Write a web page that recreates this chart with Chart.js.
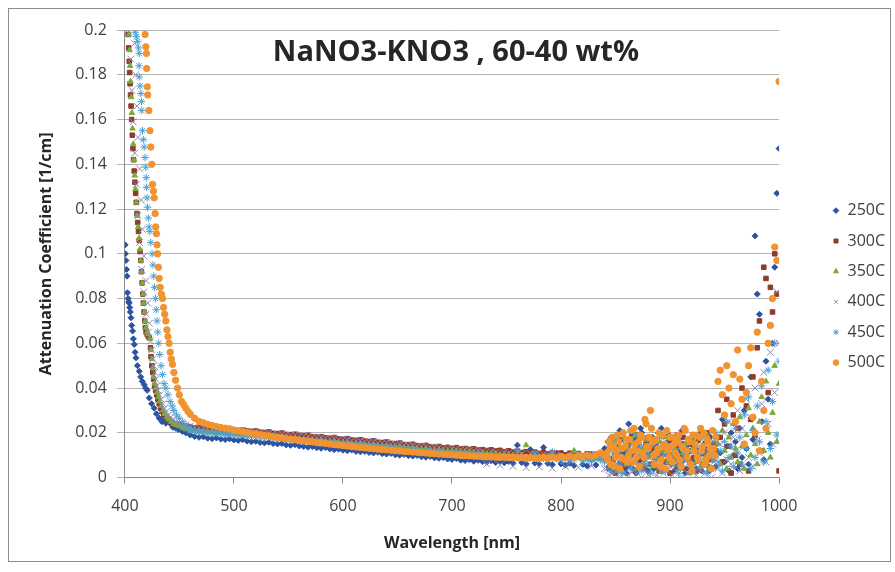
<!DOCTYPE html>
<html>
<head>
<meta charset="utf-8">
<script src="https://cdn.jsdelivr.net/npm/chart.js@4.4.1/dist/chart.umd.min.js"></script>
<style>
html, body { margin: 0; padding: 0; background: #fff; }
#wrap { position: relative; width: 895px; height: 572px; }
#frame { position: absolute; left: 8px; top: 8px; width: 881px; height: 552px; border: 1px solid #8c8c8c; pointer-events: none; }
</style>
</head>
<body>
<div id="wrap">
    <canvas id="chart" width="895" height="572"></canvas>
    <div id="frame"></div>
</div>
<script>
/* ================= DATA ================= */

const chartTitle = "NaNO3-KNO3 , 60-40 wt%";
const seriesNames = ["250C", "300C", "350C", "400C", "450C", "500C"];
const xTickLabels = ["400", "500", "600", "700", "800", "900", "1000"];
const yTickLabels = ["0", "0.02", "0.04", "0.06", "0.08", "0.1", "0.12", "0.14", "0.16", "0.18", "0.2"];

// steep absorption edge, read point by point
const edgeWl250 = [400.3,400.5,401.0,401.5,402.0,402.4,403.0,403.5,404.0,404.5,405.0,405.6,406.3,407.1,407.8,408.6,409.4,410.2,411.5,413.2,414.5,416.0,417.8,419.0,420.5,422.4,424.5,426.9,429.0,431.5,434.0,436.0,437.6,440.0,442.0,444.0,446.8,449.0,452.8,456.0];
const edgeAtt250 = [0.104,0.100,0.097,0.093,0.090,0.0826,0.080,0.0785,0.078,0.076,0.074,0.0714,0.068,0.0655,0.062,0.0595,0.056,0.0535,0.050,0.0475,0.045,0.043,0.0415,0.040,0.039,0.0356,0.033,0.031,0.0285,0.0266,0.025,0.026,0.0243,0.026,0.024,0.0225,0.022,0.0215,0.0206,0.020];

const edgeWl300 = [403.0,403.5,404.0,404.4,404.8,405.2,405.7,406.2,406.8,407.4,408.0,408.6,409.2,409.9,410.5,411.1,411.8,412.5,413.2,414.0,414.6,415.2,415.8,416.4,417.0,417.6,418.2,418.8,419.5,420.5,421.5,422.5,423.5,424.0,424.8,425.6,426.4,427.3,428.2,429.2,430.3,431.5,432.8,434.2,435.8,437.5,439.2,441.0,443.0,445.0,447.0,449.5,452.0,455.0,458.0];
const edgeAtt300 = [0.198,0.192,0.186,0.181,0.176,0.171,0.166,0.160,0.153,0.147,0.142,0.137,0.132,0.127,0.123,0.118,0.114,0.110,0.106,0.101,0.097,0.092,0.087,0.082,0.078,0.074,0.070,0.067,0.065,0.064,0.063,0.0625,0.058,0.054,0.050,0.047,0.044,0.041,0.039,0.037,0.035,0.033,0.031,0.0295,0.028,0.027,0.026,0.025,0.0245,0.024,0.0238,0.0235,0.0232,0.023,0.0228];

const edgeWl350 = [403.8,404.3,404.8,405.3,405.8,406.4,407.0,407.7,408.4,409.1,409.8,410.6,411.4,412.2,413.0,413.8,414.6,415.3,416.0,416.7,417.4,418.1,418.8,419.5,420.5,421.8,423.0,424.0,424.8,425.6,426.5,427.5,428.5,429.6,430.8,432.0,433.4,435.0,436.6,438.4,440.3,442.5,445.0,447.5,450.0,453.0,456.0];
const edgeAtt350 = [0.198,0.191,0.184,0.177,0.170,0.163,0.156,0.149,0.142,0.135,0.129,0.123,0.117,0.112,0.107,0.102,0.097,0.092,0.087,0.082,0.078,0.074,0.070,0.067,0.065,0.064,0.062,0.057,0.053,0.049,0.045,0.042,0.040,0.038,0.036,0.034,0.032,0.030,0.0285,0.027,0.026,0.025,0.024,0.0235,0.023,0.0222,0.0216];

const edgeWl400 = [402.5,409.0,405.5,410.0,406.5,411.0,407.5,412.0,409.0,413.5,410.5,415.0,412.0,416.0,413.5,417.5,415.5,419.5,417.5,421.0,419.5,422.5,421.5,423.5,424.5,425.5,426.5,427.5,428.5,429.5,430.5,432.0,433.5,435.0,436.5,438.0,440.0,442.0,444.5,447.0,450.0,453.0,456.0];
const edgeAtt400 = [0.200,0.194,0.187,0.180,0.173,0.166,0.159,0.152,0.145,0.138,0.131,0.124,0.117,0.111,0.105,0.099,0.093,0.088,0.083,0.078,0.073,0.069,0.065,0.061,0.057,0.053,0.050,0.047,0.044,0.041,0.039,0.037,0.035,0.033,0.031,0.0295,0.028,0.027,0.026,0.025,0.0245,0.024,0.0235];

const edgeWl450 = [409.5,410.5,411.8,412.5,413.2,413.0,413.2,414.0,414.7,415.2,415.6,416.2,417.0,417.7,418.5,419.2,419.6,419.9,420.4,420.8,421.5,422.3,423.0,423.8,425.0,425.8,426.5,427.2,428.0,428.8,429.5,430.2,431.0,432.0,433.2,434.5,436.0,437.6,439.5,441.5,443.5,445.0,447.5,450.0,453.0,456.0,459.0];
const edgeAtt450 = [0.199,0.197,0.1948,0.192,0.1895,0.184,0.179,0.175,0.1716,0.168,0.164,0.155,0.151,0.1477,0.143,0.1387,0.134,0.1297,0.125,0.1208,0.116,0.112,0.110,0.105,0.100,0.095,0.090,0.085,0.080,0.075,0.070,0.065,0.060,0.055,0.050,0.046,0.042,0.040,0.037,0.034,0.032,0.030,0.028,0.0265,0.025,0.023,0.022];

const edgeWl500 = [418.6,419.3,419.8,420.0,420.6,421.0,422.0,423.0,423.8,424.8,425.4,426.2,426.9,427.8,428.4,429.0,429.5,430.0,430.8,431.5,432.5,433.5,434.5,435.5,436.5,437.6,438.6,439.6,440.6,441.6,442.6,443.7,445.0,446.5,448.3,450.0,452.0,454.0,456.0,458.0];
const edgeAtt500 = [0.198,0.1925,0.1895,0.1828,0.1746,0.171,0.164,0.155,0.1477,0.140,0.131,0.128,0.125,0.118,0.112,0.109,0.104,0.100,0.094,0.089,0.085,0.082,0.080,0.076,0.073,0.070,0.066,0.063,0.060,0.056,0.053,0.0506,0.047,0.0435,0.040,0.037,0.034,0.0326,0.031,0.0295];

// flat band 460-840 nm
const bandWl = [460,464,468,472,476,480,484,488,492,496,500,504,508,512,516,520,524,528,532,536,540,544,548,552,556,560,564,568,572,576,580,584,588,592,596,600,604,608,612,616,620,624,628,632,636,640,644,648,652,656,660,664,668,672,676,680,684,688,692,696,700,704,708,712,716,720,724,728,732,736,740,744,748,752,756,760,764,768,772,776,780,784,788,792,796,800,804,808,812,816,820,824,828,832,836,840];

const band250 = [0.0190,0.0184,0.0180,0.0182,0.0176,0.0174,0.0177,0.0172,0.0170,0.0173,
    0.0168,0.0166,0.0169,0.0163,0.0160,0.0162,0.0157,0.0155,0.0158,0.0152,
    0.0150,0.0152,0.0146,0.0144,0.0147,0.0141,0.0139,0.0136,0.0138,0.0133,
    0.0131,0.0134,0.0128,0.0125,0.0127,0.0122,0.0120,0.0123,0.0117,0.0115,
    0.0117,0.0112,0.0110,0.0113,0.0107,0.0105,0.0108,0.0102,0.0100,0.0103,
    0.0098,0.0096,0.0099,0.0093,0.0091,0.0094,0.0088,0.0086,0.0089,0.0083,
    0.0081,0.0085,0.0078,0.0076,0.0080,0.0073,0.0077,0.0071,0.0069,0.0075,
    0.0068,0.0074,0.0066,0.0072,0.0064,0.0145,0.0067,0.0062,0.0125,0.0065,
    0.0060,0.0135,0.0063,0.0058,0.0110,0.0061,0.0056,0.0064,0.0054,0.0095,
    0.0059,0.0052,0.0105,0.0056,0.0090,0.0130];
const band300 = [0.0225,0.0222,0.0224,0.0219,0.0221,0.0217,0.0219,0.0215,0.0217,0.0213,
    0.0214,0.0210,0.0212,0.0208,0.0206,0.0208,0.0203,0.0201,0.0204,0.0198,
    0.0196,0.0199,0.0193,0.0191,0.0194,0.0188,0.0186,0.0189,0.0183,0.0181,
    0.0183,0.0178,0.0176,0.0179,0.0173,0.0171,0.0174,0.0168,0.0166,0.0169,
    0.0163,0.0161,0.0164,0.0158,0.0156,0.0159,0.0153,0.0151,0.0154,0.0148,
    0.0146,0.0149,0.0143,0.0141,0.0144,0.0138,0.0136,0.0139,0.0133,0.0135,
    0.0131,0.0134,0.0128,0.0130,0.0126,0.0129,0.0123,0.0125,0.0121,0.0124,
    0.0119,0.0122,0.0116,0.0120,0.0114,0.0118,0.0112,0.0116,0.0110,0.0114,
    0.0108,0.0113,0.0106,0.0111,0.0104,0.0110,0.0102,0.0109,0.0100,0.0107,
    0.0098,0.0106,0.0096,0.0105,0.0094,0.0102];
const band350 = [0.0210,0.0207,0.0205,0.0206,0.0202,0.0203,0.0199,0.0200,0.0197,0.0196,
    0.0197,0.0193,0.0194,0.0190,0.0189,0.0190,0.0186,0.0184,0.0185,0.0181,
    0.0180,0.0181,0.0177,0.0175,0.0176,0.0172,0.0170,0.0171,0.0167,0.0166,
    0.0166,0.0162,0.0161,0.0162,0.0158,0.0156,0.0157,0.0153,0.0151,0.0152,
    0.0148,0.0147,0.0148,0.0144,0.0142,0.0143,0.0139,0.0137,0.0138,0.0134,
    0.0133,0.0134,0.0130,0.0128,0.0129,0.0125,0.0124,0.0125,0.0121,0.0120,
    0.0119,0.0120,0.0116,0.0115,0.0116,0.0112,0.0111,0.0112,0.0108,0.0107,
    0.0108,0.0104,0.0103,0.0104,0.0100,0.0099,0.0100,0.0145,0.0097,0.0098,
    0.0095,0.0094,0.0096,0.0092,0.0091,0.0093,0.0089,0.0088,0.0120,0.0087,
    0.0086,0.0088,0.0084,0.0083,0.0085,0.0081];
const band400 = [0.0230,0.0226,0.0223,0.0225,0.0220,0.0218,0.0220,0.0215,0.0213,0.0215,
    0.0211,0.0209,0.0211,0.0206,0.0204,0.0206,0.0201,0.0199,0.0201,0.0196,
    0.0194,0.0196,0.0191,0.0189,0.0191,0.0186,0.0184,0.0186,0.0181,0.0179,
    0.0181,0.0176,0.0174,0.0176,0.0171,0.0169,0.0171,0.0166,0.0164,0.0166,
    0.0161,0.0159,0.0161,0.0156,0.0154,0.0156,0.0151,0.0149,0.0151,0.0146,
    0.0144,0.0146,0.0141,0.0139,0.0141,0.0136,0.0134,0.0136,0.0131,0.0129,
    0.0131,0.0126,0.0124,0.0126,0.0121,0.0119,0.0121,0.0116,0.0060,0.0116,
    0.0112,0.0055,0.0113,0.0109,0.0050,0.0110,0.0106,0.0045,0.0107,0.0103,
    0.0048,0.0104,0.0100,0.0042,0.0102,0.0098,0.0050,0.0100,0.0096,0.0046,
    0.0099,0.0095,0.0052,0.0097,0.0093,0.0040];
const band450 = [0.0212,0.0208,0.0204,0.0206,0.0200,0.0198,0.0200,0.0195,0.0193,0.0195,
    0.0190,0.0188,0.0190,0.0185,0.0183,0.0185,0.0180,0.0178,0.0180,0.0175,
    0.0173,0.0175,0.0170,0.0168,0.0170,0.0165,0.0163,0.0165,0.0160,0.0158,
    0.0160,0.0155,0.0153,0.0155,0.0150,0.0148,0.0150,0.0145,0.0143,0.0145,
    0.0140,0.0138,0.0140,0.0135,0.0133,0.0135,0.0130,0.0128,0.0130,0.0125,
    0.0123,0.0125,0.0120,0.0118,0.0120,0.0115,0.0113,0.0115,0.0110,0.0108,
    0.0110,0.0105,0.0103,0.0105,0.0100,0.0098,0.0100,0.0095,0.0093,0.0095,
    0.0090,0.0093,0.0088,0.0091,0.0086,0.0120,0.0089,0.0084,0.0087,0.0110,
    0.0082,0.0086,0.0080,0.0115,0.0084,0.0078,0.0083,0.0076,0.0081,0.0105,
    0.0074,0.0080,0.0072,0.0100,0.0078,0.0070];
const band500 = [0.0283,0.0265,0.0252,0.0245,0.0238,0.0233,0.0228,0.0224,0.0221,0.0218,
    0.0212,0.0208,0.0205,0.0201,0.0198,0.0196,0.0192,0.0189,0.0187,0.0183,
    0.0180,0.0178,0.0175,0.0172,0.0170,0.0167,0.0165,0.0162,0.0160,0.0157,
    0.0155,0.0153,0.0150,0.0148,0.0146,0.0143,0.0141,0.0139,0.0137,0.0135,
    0.0133,0.0131,0.0129,0.0127,0.0126,0.0124,0.0122,0.0120,0.0119,0.0117,
    0.0116,0.0114,0.0113,0.0111,0.0110,0.0108,0.0107,0.0105,0.0104,0.0103,
    0.0102,0.0100,0.0099,0.0098,0.0097,0.0096,0.0095,0.0094,0.0093,0.0092,
    0.0091,0.0090,0.0092,0.0089,0.0091,0.0088,0.0090,0.0087,0.0089,0.0086,
    0.0088,0.0090,0.0086,0.0092,0.0087,0.0094,0.0089,0.0096,0.0091,0.0098,
    0.0093,0.0100,0.0095,0.0102,0.0110,0.0098];

// noisy detector tail 842-1000 nm
const tailWl = [842,844,846,848,850,852,854,856,858,860,862,864,866,868,870,872,874,876,878,880,882,884,886,888,890,892,894,896,898,900,902,904,906,908,910,912,914,916,918,920,922,924,926,928,930,932,934,936,938,940,942,944,946,948,950,952,954,956,958,960,962,964,966,968,970,972,974,976,978,980,982,984,986,988,990,992,994,996,998,1000];

const tail250 = [0.012,0.005,0.018,0.009,0.003,0.015,0.021,0.007,0.011,0.002,
    0.024,0.010,0.004,0.017,0.013,0.006,0.020,0.008,0.015,0.003,
    0.011,0.018,0.005,0.014,0.009,0.022,0.004,0.012,0.016,0.007,
    0.010,0.003,0.019,0.013,0.006,0.015,0.002,0.011,0.017,0.008,
    0.014,0.004,0.012,0.020,0.006,0.010,0.016,0.003,0.013,0.009,
    0.005,0.018,0.011,0.026,0.007,0.014,0.003,0.020,0.010,0.016,
    0.004,0.022,0.009,0.030,0.013,0.006,0.045,0.017,0.108,0.082,
    0.073,0.025,0.008,0.052,0.035,0.015,0.060,0.094,0.127,0.147];
const tail300 = [0.010,0.004,0.014,0.008,0.002,0.012,0.017,0.006,0.009,0.013,
    0.005,0.016,0.011,0.003,0.019,0.008,0.012,0.004,0.015,0.010,
    0.006,0.013,0.009,0.017,0.003,0.011,0.015,0.007,0.012,0.002,
    0.016,0.008,0.005,0.014,0.010,0.018,0.004,0.012,0.007,0.015,
    0.009,0.003,0.017,0.011,0.006,0.013,0.020,0.008,0.004,0.015,
    0.012,0.030,0.018,0.007,0.024,0.035,0.014,0.002,0.028,0.010,
    0.022,0.006,0.040,0.015,0.032,0.003,0.026,0.045,0.019,0.058,
    0.070,0.012,0.094,0.089,0.038,0.085,0.074,0.100,0.082,0.003];
const tail350 = [0.009,0.013,0.005,0.016,0.011,0.003,0.014,0.008,0.018,0.006,
    0.012,0.007,0.015,0.019,0.004,0.010,0.013,0.006,0.017,0.009,
    0.014,0.005,0.011,0.008,0.016,0.003,0.012,0.018,0.007,0.010,
    0.006,0.013,0.009,0.017,0.004,0.011,0.015,0.008,0.002,0.012,
    0.016,0.007,0.011,0.005,0.014,0.009,0.019,0.004,0.012,0.008,
    0.010,0.015,0.006,0.021,0.012,0.004,0.018,0.009,0.024,0.013,
    0.007,0.027,0.014,0.004,0.019,0.031,0.010,0.022,0.015,0.006,
    0.025,0.036,0.012,0.043,0.020,0.009,0.029,0.050,0.016,0.042];
const tail400 = [0.004,0.001,0.007,0.002,0.009,0.003,0.000,0.006,0.002,0.008,
    0.001,0.005,0.003,0.010,0.002,0.006,0.000,0.004,0.008,0.001,
    0.006,0.002,0.009,0.001,0.004,0.007,0.002,0.011,0.003,0.005,
    0.001,0.008,0.003,0.006,0.000,0.004,0.010,0.002,0.007,0.003,
    0.005,0.001,0.009,0.003,0.006,0.002,0.012,0.004,0.000,0.007,
    0.010,0.004,0.015,0.002,0.020,0.008,0.025,0.006,0.018,0.012,
    0.030,0.003,0.022,0.014,0.035,0.009,0.027,0.005,0.040,0.017,
    0.011,0.033,0.047,0.007,0.024,0.056,0.015,0.038,0.083,0.060];
const tail450 = [0.008,0.014,0.003,0.011,0.017,0.006,0.010,0.002,0.013,0.009,
    0.016,0.004,0.012,0.007,0.019,0.010,0.003,0.014,0.006,0.011,
    0.002,0.015,0.008,0.012,0.005,0.018,0.010,0.003,0.013,0.007,
    0.011,0.006,0.016,0.002,0.013,0.008,0.010,0.017,0.005,0.012,
    0.003,0.014,0.008,0.011,0.018,0.006,0.002,0.013,0.009,0.016,
    0.020,0.007,0.012,0.003,0.016,0.025,0.009,0.014,0.005,0.022,
    0.011,0.018,0.006,0.028,0.013,0.036,0.004,0.021,0.009,0.032,
    0.016,0.041,0.007,0.025,0.048,0.013,0.034,0.060,0.019,0.052];
const tail500 = [0.011,0.016,0.006,0.014,0.009,0.019,0.004,0.013,0.008,0.017,
    0.010,0.021,0.007,0.015,0.012,0.005,0.018,0.009,0.024,0.013,
    0.030,0.016,0.006,0.011,0.020,0.008,0.014,0.004,0.012,0.018,
    0.007,0.015,0.010,0.019,0.005,0.013,0.021,0.009,0.016,0.003,
    0.012,0.019,0.008,0.022,0.014,0.006,0.017,0.010,0.004,0.013,
    0.018,0.043,0.048,0.037,0.028,0.050,0.040,0.033,0.046,0.025,
    0.057,0.044,0.035,0.015,0.038,0.050,0.058,0.027,0.020,0.065,
    0.012,0.043,0.030,0.022,0.060,0.068,0.080,0.103,0.097,0.177];

// second set of readings in the dense 843-941 nm cloud
const tailWlB = [843,845,847,849,851,853,855,857,859,861,863,865,867,869,871,873,875,877,879,881,883,885,887,889,891,893,895,897,899,901,903,905,907,909,911,913,915,917,919,921,923,925,927,929,931,933,935,937,939,941];
const tail250b = [0.016,0.008,0.003,0.013,0.019,0.006,0.011,0.017,0.004,0.014,
    0.007,0.019,0.012,0.002,0.015,0.022,0.009,0.005,0.018,0.011,
    0.016,0.004,0.013,0.020,0.008,0.003,0.015,0.010,0.019,0.006,
    0.013,0.017,0.005,0.011,0.021,0.008,0.014,0.004,0.012,0.018,
    0.007,0.016,0.010,0.003,0.015,0.012,0.005,0.018,0.008,0.014];
const tail500b = [0.008,0.013,0.018,0.005,0.012,0.016,0.009,0.020,0.014,0.007,
    0.017,0.012,0.022,0.009,0.016,0.019,0.011,0.026,0.014,0.018,
    0.022,0.010,0.017,0.013,0.005,0.019,0.015,0.021,0.009,0.014,
    0.018,0.011,0.016,0.008,0.014,0.022,0.012,0.017,0.006,0.019,
    0.015,0.009,0.018,0.012,0.020,0.008,0.016,0.013,0.021,0.010];

/* ================= STYLE ================= */

const FONT = '"Open Sans", "DejaVu Sans", sans-serif';
const TEXT_COLOR = "#404040";

const seriesStyle = [
    { color: "#2c53a0", pointStyle: "rectRot",  radius: 3.0 },
    { color: "#8e3b2c", pointStyle: "rect",     radius: 3.2 },
    { color: "#7ea83c", pointStyle: "triangle", radius: 3.2 },
    { color: "#8d87b6", pointStyle: "crossRot", radius: 4.8 },
    { color: "#4c9fd3", pointStyle: "star",     radius: 3.8 },
    { color: "#f09330", pointStyle: "circle",   radius: 3.2 }
];

/* ================= BUILD ================= */

function toPoints(xs, ys) {
    return xs.map((x, i) => ({ x, y: ys[i] }));
}

function seriesPoints(edgeX, edgeY, band, tail, extra) {
    let pts = toPoints(edgeX, edgeY)
        .concat(toPoints(bandWl, band))
        .concat(toPoints(tailWl, tail));
    if (extra) pts = pts.concat(toPoints(tailWlB, extra));
    return pts;
}

const seriesData = [
    seriesPoints(edgeWl250, edgeAtt250, band250, tail250, tail250b),
    seriesPoints(edgeWl300, edgeAtt300, band300, tail300),
    seriesPoints(edgeWl350, edgeAtt350, band350, tail350),
    seriesPoints(edgeWl400, edgeAtt400, band400, tail400),
    seriesPoints(edgeWl450, edgeAtt450, band450, tail450),
    seriesPoints(edgeWl500, edgeAtt500, band500, tail500, tail500b)
];

const datasets = seriesNames.map((name, i) => ({
    label: name,
    data: seriesData[i],
    pointStyle: seriesStyle[i].pointStyle,
    pointRadius: seriesStyle[i].radius,
    borderWidth: 1,
    borderColor: seriesStyle[i].color,
    backgroundColor: seriesStyle[i].color,
    order: seriesNames.length - i   // later series on top, like Excel
}));

/* ================= TITLE INSIDE PLOT ================= */

const insideTitle = {
    id: "insideTitle",
    afterDraw(chart) {
        const { ctx, chartArea } = chart;
        ctx.save();
        ctx.font = "bold 29px " + FONT;
        ctx.fillStyle = "#262626";
        ctx.textAlign = "center";
        ctx.textBaseline = "middle";
        ctx.fillText(chartTitle, (chartArea.left + chartArea.right) / 2 + 4, chartArea.top + 23);
        ctx.restore();
    }
};

/* ================= CHART ================= */

Chart.defaults.font.family = FONT;
Chart.defaults.color = TEXT_COLOR;

new Chart(document.getElementById("chart").getContext("2d"), {
    type: "scatter",
    data: { datasets },
    options: {
        responsive: false,
        animation: false,
        devicePixelRatio: 1,
        layout: { padding: { left: 37, right: 0, top: 30, bottom: 19 } },
        plugins: {
            legend: {
                position: "right",
                align: "start",
                title: { display: true, text: "", font: { size: 1 }, padding: { top: 0, bottom: 157 } },
                labels: {
                    usePointStyle: true,
                    boxWidth: 7,
                    boxHeight: 4,
                    padding: 14.4,
                    color: TEXT_COLOR,
                    font: { size: 16, family: FONT },
                    sort: (a, b) => a.datasetIndex - b.datasetIndex
                }
            },
            tooltip: { enabled: false }
        },
        scales: {
            x: {
                type: "linear",
                min: 400,
                max: 1000,
                ticks: {
                    stepSize: 100,
                    padding: 13,
                    color: TEXT_COLOR,
                    font: { size: 16 },
                    callback: (v, i) => xTickLabels[i]
                },
                grid: { drawOnChartArea: false, tickLength: 6, color: "#8a8a8a" },
                border: { color: "#8a8a8a" },
                title: {
                    display: true,
                    text: "Wavelength [nm]",
                    color: "#262626",
                    font: { size: 16, weight: "bold" },
                    padding: { top: 5, bottom: 0 }
                }
            },
            y: {
                min: 0,
                max: 0.2,
                ticks: {
                    stepSize: 0.02,
                    padding: 10,
                    color: TEXT_COLOR,
                    font: { size: 16 },
                    callback: (v, i) => yTickLabels[i]
                },
                grid: { color: "#b3b3b3", tickLength: 8 },
                border: { color: "#8a8a8a" },
                title: {
                    display: true,
                    text: "Attenuation Coefficient [1/cm]",
                    color: "#262626",
                    font: { size: 16, weight: "bold" },
                    padding: { top: 0, bottom: 9 }
                }
            },
            // empty gap between the plot and the legend
            gap: {
                position: "right",
                display: true,
                grid: { display: false },
                ticks: { display: false },
                border: { display: false },
                afterFit: (scale) => { scale.width = 39; }
            }
        }
    },
    plugins: [insideTitle]
});
</script>
</body>
</html>
